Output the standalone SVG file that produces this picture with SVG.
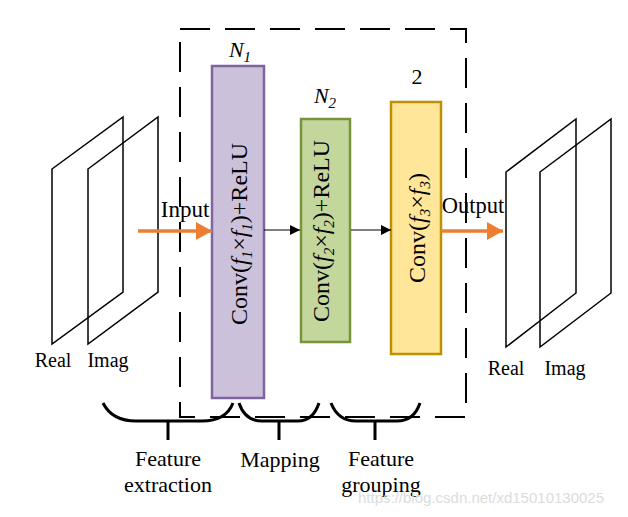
<svg xmlns="http://www.w3.org/2000/svg" width="628" height="517" viewBox="0 0 628 517">
<style>
.t{font-family:"Liberation Serif","Times New Roman",serif;fill:#000}
.plane{fill:none;stroke:#000;stroke-width:1.5}
.brace{fill:none;stroke:#000;stroke-width:3}
.blk{stroke:#000;stroke-width:1.2;fill:none}
.org{stroke:#ED7D31;stroke-width:3.5;fill:none}
.sub{font-size:15px;font-style:italic}
</style>
<defs>
<marker id="ah" markerWidth="10" markerHeight="10" refX="10" refY="5" orient="auto" markerUnits="userSpaceOnUse"><path d="M0,0 L10,5 L0,10 z" fill="#000"/></marker>
<marker id="oh" markerWidth="16" markerHeight="18" refX="16" refY="9" orient="auto" markerUnits="userSpaceOnUse"><path d="M0,0 L16,9 L0,18 z" fill="#ED7D31"/></marker>
</defs>
<rect width="628" height="517" fill="#fff"/>
<g id="frame">
<rect x="180" y="29" width="286" height="388" fill="none" stroke="#000" stroke-width="2" stroke-dasharray="30,15"/>
</g>
<g id="input-planes">
<polygon class="plane" points="52,169 123,117 123,292 52,344"/>
<polygon class="plane" points="88,169 158,117 158,292 88,344"/>
<text class="t" x="53" y="367" font-size="20" text-anchor="middle">Real</text>
<text class="t" x="108" y="367" font-size="20" text-anchor="middle">Imag</text>
</g>
<g id="output-planes">
<polygon class="plane" points="506,172 576,119 576,293 506,347"/>
<polygon class="plane" points="540,172 611,119 611,293 540,347"/>
<text class="t" x="506" y="375" font-size="20" text-anchor="middle">Real</text>
<text class="t" x="565" y="375" font-size="20" text-anchor="middle">Imag</text>
</g>
<g id="conv1">
<rect x="212" y="66" width="52" height="332" fill="#CCC1DA" stroke="#8064A2" stroke-width="2.5"/>
<text class="t" font-size="24" text-anchor="middle" transform="translate(247,234) rotate(-90)">Conv(<tspan font-style="italic">f</tspan><tspan class="sub" dy="5">1</tspan><tspan dy="-5">×</tspan><tspan font-style="italic">f</tspan><tspan class="sub" dy="5">1</tspan><tspan dy="-5">)+ReLU</tspan></text>
<text class="t" x="240" y="57" font-size="22" font-style="italic" text-anchor="middle">N<tspan font-size="15" dy="5">1</tspan></text>
</g>
<g id="conv2">
<rect x="301" y="119" width="49" height="223" fill="#C3D69B" stroke="#77933C" stroke-width="2.5"/>
<text class="t" font-size="24" text-anchor="middle" transform="translate(329,231) rotate(-90)">Conv(<tspan font-style="italic">f</tspan><tspan class="sub" dy="5">2</tspan><tspan dy="-5">×</tspan><tspan font-style="italic">f</tspan><tspan class="sub" dy="5">2</tspan><tspan dy="-5">)+ReLU</tspan></text>
<text class="t" x="325" y="103" font-size="22" font-style="italic" text-anchor="middle">N<tspan font-size="15" dy="5">2</tspan></text>
</g>
<g id="conv3">
<rect x="391" y="102" width="50" height="252" fill="#FFE699" stroke="#BF9000" stroke-width="2.5"/>
<text class="t" font-size="24" text-anchor="middle" transform="translate(425,228) rotate(-90)">Conv(<tspan font-style="italic">f</tspan><tspan class="sub" dy="5">3</tspan><tspan dy="-5">×</tspan><tspan font-style="italic">f</tspan><tspan class="sub" dy="5">3</tspan><tspan dy="-5">)</tspan></text>
<text class="t" x="417" y="84" font-size="22" text-anchor="middle">2</text>
</g>
<g id="connectors">
<line class="org" x1="138" y1="231" x2="212" y2="231" marker-end="url(#oh)"/>
<line class="org" x1="441" y1="231" x2="503" y2="231" marker-end="url(#oh)"/>
<line class="blk" x1="264" y1="230" x2="300" y2="230" marker-end="url(#ah)"/>
<line class="blk" x1="351" y1="230" x2="391" y2="230" marker-end="url(#ah)"/>
<text class="t" x="185" y="217" font-size="23" text-anchor="middle">Input</text>
<text class="t" x="473" y="213" font-size="22.5" text-anchor="middle">Output</text>
</g>
<g id="brace-extraction">
<path class="brace" d="M103,403 Q112,421 136,421 L202,421 Q226,421 233,403"/>
<line class="brace" x1="168" y1="421" x2="168" y2="440"/>
<text class="t" x="168" y="466" font-size="22" text-anchor="middle">Feature</text>
<text class="t" x="168" y="492" font-size="22" text-anchor="middle">extraction</text>
</g>
<g id="brace-mapping">
<path class="brace" d="M239,403 Q245,421 262,421 L298,421 Q313,421 319,403"/>
<line class="brace" x1="279" y1="421" x2="279" y2="440"/>
<text class="t" x="280" y="467" font-size="22" text-anchor="middle">Mapping</text>
</g>
<g id="brace-grouping">
<path class="brace" d="M331,403 Q338,421 356,421 L397,421 Q414,421 420,403"/>
<line class="brace" x1="375" y1="421" x2="375" y2="440"/>
<text class="t" x="381" y="466" font-size="22" text-anchor="middle">Feature</text>
<text class="t" x="381" y="492" font-size="22" text-anchor="middle">grouping</text>
</g>
<text x="358" y="503" font-family="Liberation Sans,Arial,sans-serif" font-size="15" fill="#dcdcdc">https://blog.csdn.net/xd15010130025</text>
</svg>
